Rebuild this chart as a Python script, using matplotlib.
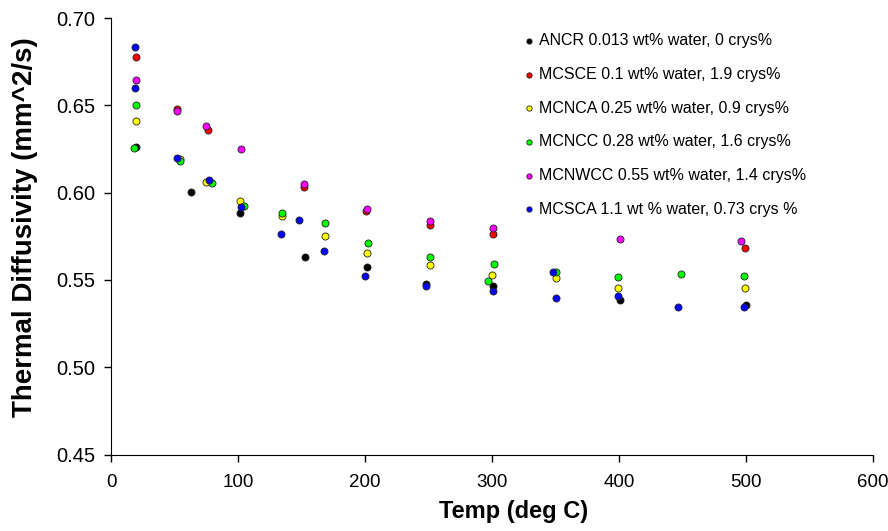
import matplotlib
matplotlib.use('Agg')
import matplotlib.pyplot as plt

plt.rcParams['font.family'] = ['Liberation Sans', 'DejaVu Sans']

labels = ['ANCR 0.013 wt% water, 0 crys%',
          'MCSCE 0.1 wt% water, 1.9 crys%',
          'MCNCA 0.25 wt% water, 0.9 crys%',
          'MCNCC 0.28 wt% water, 1.6 crys%',
          'MCNWCC 0.55 wt% water, 1.4 crys%',
          'MCSCA 1.1 wt % water, 0.73 crys %']
colors = ['#000000', '#ff0000', '#ffff00', '#00ff00', '#ff00ff', '#0000ff']

# ANCR
ancr_t = [20, 63, 101.6, 152.8, 201.9, 248.3, 300.6, 400.9, 500]
ancr_d = [0.6261, 0.6002, 0.5882, 0.5634, 0.5574, 0.5475, 0.5466, 0.5386, 0.5358]
# MCSCE
mcsce_t = [20, 52, 76, 152, 201, 251, 301, 499]
mcsce_d = [0.6776, 0.6481, 0.6360, 0.6032, 0.5897, 0.5814, 0.5765, 0.5685]
# MCNCA
mcnca_t = [20, 54, 75, 101.6, 134.7, 168.6, 201.9, 251.5, 300.3, 350.2, 399.5, 499.5]
mcnca_d = [0.6409, 0.6193, 0.6060, 0.5955, 0.5864, 0.5752, 0.5653, 0.5585, 0.5526, 0.5513, 0.5455, 0.5455]
# MCNCC
mcncc_t = [18.5, 20, 54, 79.6, 104.5, 134.7, 168.8, 202.7, 251.3, 296.9, 301.3, 350.5, 399.5, 449.1, 498.2]
mcncc_d = [0.6253, 0.6500, 0.6180, 0.6053, 0.5924, 0.5882, 0.5824, 0.5712, 0.5634, 0.5494, 0.5594, 0.5545, 0.5515, 0.5534, 0.5524]
# MCNWCC
mcnwcc_t = [20, 51.6, 75, 102.7, 151.7, 201.3, 251.5, 301, 401, 496.4]
mcnwcc_d = [0.6648, 0.6469, 0.6381, 0.6252, 0.6051, 0.5905, 0.5835, 0.5795, 0.5735, 0.5723]
# MCSCA
mcsca_t = [19.2, 19.2, 51.6, 77.2, 102.1, 133.6, 148.1, 167.8, 200.3, 248.3, 300.6, 348.3, 350.2, 399.5, 446.2, 498.2]
mcsca_d = [0.6837, 0.6598, 0.6201, 0.6074, 0.5915, 0.5765, 0.5843, 0.5665, 0.5524, 0.5466, 0.5435, 0.5545, 0.5395, 0.5407, 0.5347, 0.5347]

series = [(ancr_t, ancr_d), (mcsce_t, mcsce_d), (mcnca_t, mcnca_d),
          (mcncc_t, mcncc_d), (mcnwcc_t, mcnwcc_d), (mcsca_t, mcsca_d)]

fig = plt.figure(figsize=(8.88, 5.31), dpi=100)
ax = fig.add_axes([0.125, 0.144, 0.858, 0.822])

for (t, d), c, lab in zip(series, colors, labels):
    ax.scatter(t, d, s=26, c=c, edgecolors='#222222', linewidths=0.6, label=lab, zorder=3)

ax.set_xlim(0, 600)
ax.set_ylim(0.45, 0.70)
ax.set_xticks(range(0, 601, 100))
ax.set_yticks([0.45, 0.50, 0.55, 0.60, 0.65, 0.70])
ax.set_yticklabels(['%.2f' % v for v in ax.get_yticks()])
ax.tick_params(direction='out', length=5, width=1)
ax.tick_params(axis='x', pad=9, labelsize=13.5)
ax.tick_params(axis='y', pad=6, labelsize=14.5)
ax.spines['top'].set_visible(False)
ax.spines['right'].set_visible(False)

ax.set_xlabel('Temp (deg C)', fontsize=17, fontweight='bold')
ax.set_ylabel('Thermal Diffusivity (mm^2/s)', fontsize=20, fontweight='bold')
ax.xaxis.set_label_coords(0.528, -0.104)
ax.yaxis.set_label_coords(-0.096, 0.52)

leg = ax.legend(loc='upper left', bbox_to_anchor=(0.53, 0.98), frameon=False,
                fontsize=11.5, markerscale=0.75, handletextpad=0.1, labelspacing=1.17,
                borderaxespad=0, handlelength=1.0)

fig.savefig('out.png', dpi=100)
